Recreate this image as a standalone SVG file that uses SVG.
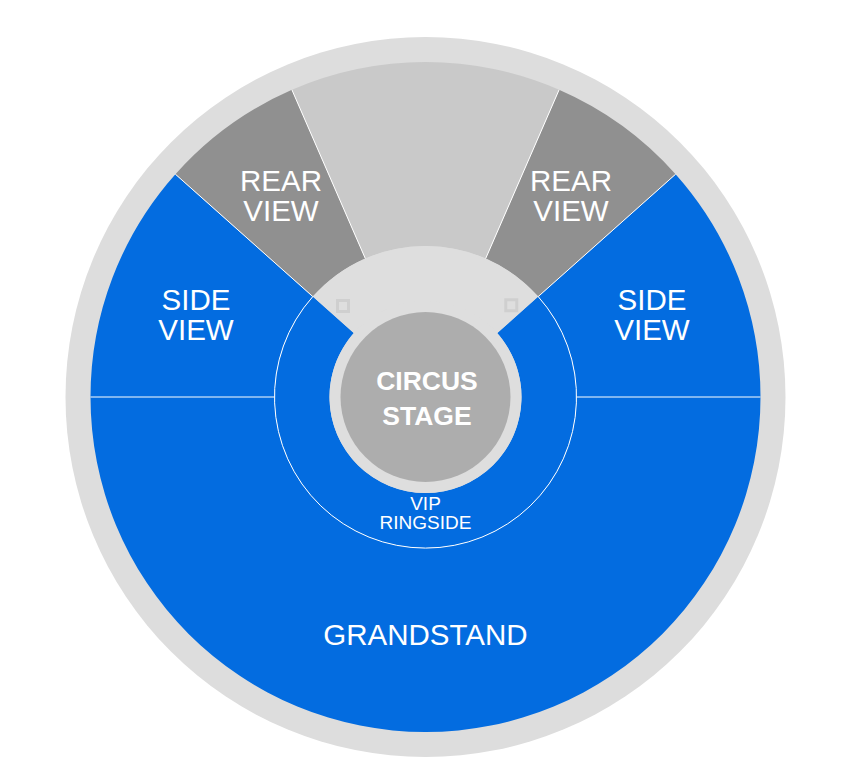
<svg xmlns="http://www.w3.org/2000/svg" width="849" height="766" viewBox="0 0 849 766">
<style>
.lbl{font-family:"Liberation Sans",Arial,sans-serif;fill:#ffffff;text-anchor:middle}
.big{font-size:29.5px}
.stage{font-size:26.5px;font-weight:bold}
.vip{font-size:19px}
.blue{fill:#036ce0}
.rear{fill:#909090}
.div{stroke:#ffffff;stroke-width:1;fill:none}
</style>
<rect width="849" height="766" fill="#ffffff"/>
<g id="outer-ring"><circle cx="425.5" cy="397" r="360" fill="#dddddd"/></g>
<g id="grandstand">
<path class="blue" d="M 90.5,397 A 335 335 0 0 0 760.5,397 L 576.5,397 A 151 151 0 0 1 274.5,397 Z"/>
<text class="lbl big" x="425.5" y="645">GRANDSTAND</text>
</g>
<g id="side-view-left">
<path class="blue" d="M 274.5,397 L 90.5,397 A 335 335 0 0 1 175.4,174.2 L 312.8,296.6 A 151 151 0 0 0 274.5,397 Z"/>
<text class="lbl big" x="196" y="310">SIDE</text>
<text class="lbl big" x="196" y="340">VIEW</text>
</g>
<g id="side-view-right">
<path class="blue" d="M 538.2,296.6 L 675.6,174.2 A 335 335 0 0 1 760.5,397 L 576.5,397 A 151 151 0 0 0 538.2,296.6 Z"/>
<text class="lbl big" x="652" y="310">SIDE</text>
<text class="lbl big" x="652" y="340">VIEW</text>
</g>
<g id="rear-view-left">
<path class="rear" d="M 312.8,296.6 L 175.4,174.2 A 335 335 0 0 1 291.9,89.8 L 365.3,258.5 A 151 151 0 0 0 312.8,296.6 Z"/>
<text class="lbl big" x="281" y="190.5">REAR</text>
<text class="lbl big" x="281" y="220.5">VIEW</text>
</g>
<g id="rear-view-right">
<path class="rear" d="M 485.7,258.5 L 559.1,89.8 A 335 335 0 0 1 675.6,174.2 L 538.2,296.6 A 151 151 0 0 0 485.7,258.5 Z"/>
<text class="lbl big" x="571" y="190.5">REAR</text>
<text class="lbl big" x="571" y="220.5">VIEW</text>
</g>
<g id="back-section">
<path fill="#c9c9c9" d="M 365.3,258.5 L 291.9,89.8 A 335 335 0 0 1 559.1,89.8 L 485.7,258.5 A 151 151 0 0 0 365.3,258.5 Z"/>
</g>
<g id="vip-ringside">
<path class="blue" d="M 312.8,296.6 A 151 151 0 1 0 538.2,296.6 L 497.2,333.1 A 96 96 0 1 1 353.8,333.1 Z"/>
<text class="lbl vip" x="425.5" y="509.5">VIP</text>
<text class="lbl vip" x="425.5" y="529">RINGSIDE</text>
</g>
<g id="backstage">
<path fill="#dedede" d="M 425.5,397 L 312.8,296.6 A 151 151 0 0 1 538.2,296.6 Z"/>
<rect x="337.5" y="300.5" width="11" height="11" fill="#dedede" stroke="#cfcfcf" stroke-width="3"/>
<rect x="505.8" y="299.8" width="11" height="11" fill="#dedede" stroke="#cfcfcf" stroke-width="3"/>
</g>
<g id="circus-stage">
<circle cx="425.5" cy="397" r="96" fill="#dedede"/>
<circle cx="425.5" cy="397" r="85" fill="#adadad"/>
<text class="lbl stage" x="427" y="389.5">CIRCUS</text>
<text class="lbl stage" x="427" y="425">STAGE</text>
</g>
<g id="dividers">
<line class="div" x1="90.5" y1="397" x2="274.5" y2="397"/>
<line class="div" x1="576.5" y1="397" x2="760.5" y2="397"/>
<line class="div" x1="175.4" y1="174.2" x2="312.8" y2="296.6"/>
<line class="div" x1="675.6" y1="174.2" x2="538.2" y2="296.6"/>
<line class="div" x1="291.9" y1="89.8" x2="365.3" y2="258.5"/>
<line class="div" x1="559.1" y1="89.8" x2="485.7" y2="258.5"/>
<path class="div" d="M 312.8,296.6 A 151 151 0 1 0 538.2,296.6"/>
</g>
</svg>
